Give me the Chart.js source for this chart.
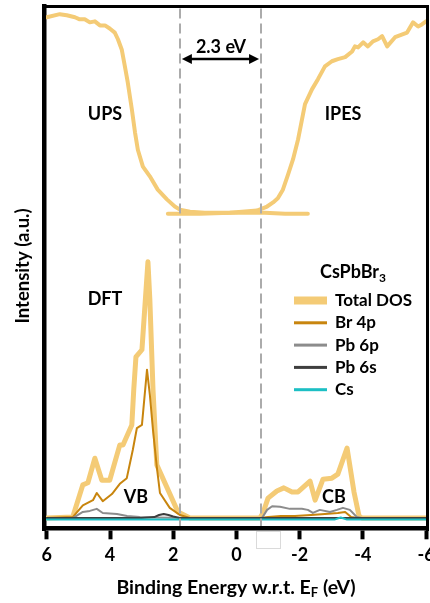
<!DOCTYPE html>
<html>
<head>
<meta charset="utf-8">
<script src="https://cdn.jsdelivr.net/npm/chart.js@4.4.1/dist/chart.umd.min.js"></script>
<style>
  html, body { margin: 0; padding: 0; background: #ffffff; }
  #wrap { width: 430px; height: 603px; position: relative; }
</style>
</head>
<body>
<div id="wrap"><canvas id="c" width="430" height="603"></canvas></div>
<script>
// Energy axis (binding energy, eV; drawn high-to-low)
const xTicks = [6, 4, 2, 0, -2, -4, -6];

// Band edges marked by the dashed guides and the 2.3 eV gap arrow
const gapEdges = [1.79, -0.78];

// UPS spectrum
const upsE = [6.0, 5.59, 5.37, 5.11, 4.96, 4.80, 4.64, 4.48, 4.32, 4.16, 4.01, 3.85, 3.75, 3.63, 3.53, 3.44, 3.31, 3.21, 3.12, 2.96, 2.74, 2.49, 2.20, 1.95, 1.79, 1.47, 1.00, 0.36, -0.27, -0.90, -1.54, -2.26];
const upsI = [97.9, 98.5, 98.3, 97.9, 97.5, 97.5, 96.9, 97.1, 96.3, 96.3, 95.7, 94.9, 93.6, 91.6, 88.3, 85.2, 79.9, 75.4, 72.0, 68.7, 66.8, 64.2, 62.3, 60.9, 60.3, 59.9, 59.7, 59.7, 59.7, 59.7, 59.5, 59.5];

// IPES spectrum
const ipesE = [2.17, 1.16, 0.21, -0.65, -0.97, -1.16, -1.31, -1.47, -1.63, -1.79, -1.95, -2.17, -2.39, -2.58, -2.80, -3.02, -3.21, -3.44, -3.66, -3.75, -3.85, -4.01, -4.16, -4.32, -4.48, -4.61, -4.77, -5.02, -5.40, -5.59, -5.75, -5.87, -6.0];
const ipesI = [59.5, 59.5, 59.7, 60.1, 60.9, 61.7, 62.5, 64.2, 67.1, 70.1, 74.0, 80.9, 83.8, 85.8, 88.3, 89.3, 89.7, 90.1, 91.2, 92.2, 92.0, 93.0, 92.2, 93.2, 93.6, 94.2, 92.2, 94.0, 94.9, 96.9, 96.1, 96.5, 97.1];

// DFT density of states: total
const totalE = [6.0, 5.18, 4.86, 4.70, 4.48, 4.26, 4.01, 3.69, 3.59, 3.31, 3.25, 3.18, 2.99, 2.80, 2.74, 2.64, 2.52, 1.85, 1.47, -0.74, -0.84, -1.00, -1.28, -1.50, -1.76, -1.95, -2.33, -2.49, -2.74, -3.02, -3.21, -3.50, -3.72, -3.88, -3.97, -6.0];
const totalV = [0, 0.2, 6.5, 6.9, 11.7, 7.4, 7.4, 14.3, 14.3, 18.2, 25.0, 31.5, 32.9, 50.1, 42.7, 25.1, 10.4, 1.2, 0, 0, 1.0, 3.9, 5.3, 5.9, 5.1, 5.1, 7.2, 3.5, 7.6, 7.8, 8.6, 13.7, 5.1, 0.4, 0, 0];

// Br 4p projected DOS
const br4pE = [6.0, 5.18, 4.86, 4.54, 4.42, 4.23, 3.94, 3.69, 3.47, 3.28, 3.15, 2.99, 2.83, 2.74, 2.64, 2.52, 2.42, 2.11, 1.79, 1.47, -0.74, -1.00, -1.41, -1.85, -2.36, -2.80, -3.21, -3.44, -3.63, -3.85, -6.0];
const br4pV = [0, 0.2, 2.5, 3.5, 4.9, 3.3, 4.7, 6.7, 7.8, 13.3, 17.6, 18.2, 29.0, 24.1, 17.2, 10.0, 4.9, 2.0, 0.6, 0, 0, 0.2, 0.4, 0.4, 0.6, 0.8, 1.0, 1.2, 0.2, 0, 0];

// Pb 6p projected DOS
const pb6pE = [6.0, 5.18, 4.86, 4.64, 4.42, 4.23, 3.78, 3.46, 3.06, 2.60, 1.47, -0.81, -0.97, -1.13, -1.38, -1.69, -2.07, -2.26, -2.42, -2.64, -2.96, -3.18, -3.37, -3.59, -3.81, -3.97, -6.0];
const pb6pV = [0, 0, 1.2, 1.4, 1.8, 1.0, 0.8, 0.4, 0.2, 0.1, 0, 0, 1.6, 2.3, 2.2, 1.8, 1.8, 1.6, 1.0, 1.6, 1.2, 1.6, 2.0, 1.6, 0.2, 0, 0];

// Pb 6s projected DOS
const pb6sE = [6.0, 3.0, 2.6, 2.45, 2.3, 2.15, 2.0, 1.8, -6.0];
const pb6sV = [0, 0, 0.2, 0.6, 0.8, 0.6, 0.3, 0, 0];

// Cs projected DOS
const csE = [6.0, -3.1, -3.3, -3.5, -6.0];
const csV = [-0.3, -0.3, 0.1, -0.3, -0.3];

const legendNames = ['Total DOS', 'Br 4p', 'Pb 6p', 'Pb 6s', 'Cs'];

const COL = {
  total: '#F4CB76',
  br: '#C8850E',
  pb6p: '#8C8C8C',
  pb6s: '#3E3E3E',
  cs: '#1CBFC4'
};

const pts = (xs, ys) => xs.map((x, i) => ({ x: x, y: ys[i] }));

function lineSet(label, xs, ys, color, width, order) {
  return {
    label: label,
    data: pts(xs, ys),
    borderColor: color,
    backgroundColor: color,
    borderWidth: width,
    pointRadius: 0,
    tension: 0,
    fill: false,
    order: order,
    borderJoinStyle: 'round',
    borderCapStyle: 'round'
  };
}

const FONT = 'Lato, "Open Sans", "DejaVu Sans", sans-serif';

// Frame-only axis (no ticks, no grid), used for the box edges
function frameAxis(axis, position, width, fitSize) {
  return {
    type: 'linear',
    axis: axis,
    position: position,
    display: true,
    min: 0,
    max: 1,
    grid: { display: false, drawTicks: false },
    ticks: { display: false },
    border: { display: true, color: '#000', width: width },
    afterFit(scale) {
      if (axis === 'x') scale.height = fitSize; else scale.width = fitSize;
      scale.paddingLeft = 0; scale.paddingRight = 0; scale.paddingTop = 0; scale.paddingBottom = 0;
    }
  };
}

// Dashed guides, gap arrow, box edges, labels and the legend block
const overlay = {
  id: 'overlay',
  afterDraw(chart) {
    const ctx = chart.ctx;
    const a = chart.chartArea;
    const xs = chart.scales.x;

    // dashed band-edge guides
    ctx.save();
    ctx.strokeStyle = '#ABABAB';
    ctx.lineWidth = 2;
    ctx.setLineDash([10, 5]);
    gapEdges.forEach(e => {
      const px = Math.round(xs.getPixelForValue(e));
      ctx.beginPath();
      ctx.moveTo(px, a.top + 2);
      ctx.lineTo(px, a.bottom + 1);
      ctx.stroke();
    });
    ctx.setLineDash([]);
    ctx.restore();

    // double-headed gap arrow
    const xl = xs.getPixelForValue(gapEdges[0]) + 2;
    const xr = xs.getPixelForValue(gapEdges[1]) - 2;
    const ay = 59;
    ctx.save();
    ctx.fillStyle = '#000';
    ctx.fillRect(xl + 8, ay - 1.25, (xr - 8) - (xl + 8), 2.5);
    ctx.beginPath();
    ctx.moveTo(xl, ay); ctx.lineTo(xl + 10, ay - 5); ctx.lineTo(xl + 10, ay + 5); ctx.closePath();
    ctx.fill();
    ctx.beginPath();
    ctx.moveTo(xr, ay); ctx.lineTo(xr - 10, ay - 5); ctx.lineTo(xr - 10, ay + 5); ctx.closePath();
    ctx.fill();

    // box edges over the curve ends
    ctx.fillRect(42, 5, 387, 3);
    ctx.fillRect(426, 5, 3, 526);
    ctx.fillRect(42, 5, 4, 526);
    ctx.fillRect(42, 526, 387, 4);
    ctx.restore();

    // text labels
    ctx.save();
    ctx.fillStyle = '#000';
    ctx.textAlign = 'center';
    ctx.textBaseline = 'middle';
    ctx.font = 'bold 18px ' + FONT;
    ctx.fillText('UPS', 105, 114);
    ctx.fillText('IPES', 343, 114);
    ctx.fillText('DFT', 105, 299);
    ctx.fillText('VB', 136, 497);
    ctx.fillText('CB', 334, 497);
    ctx.fillText('2.3 eV', 221, 47);

    // y-axis title
    ctx.save();
    ctx.translate(23, 266);
    ctx.rotate(-Math.PI / 2);
    ctx.font = 'bold 18.5px ' + FONT;
    ctx.fillText('Intensity (a.u.)', 0, 0);
    ctx.restore();

    // x-axis title with subscript
    const t1 = 'Binding Energy w.r.t. E';
    const t2 = 'F';
    const t3 = ' (eV)';
    ctx.font = 'bold 19.5px ' + FONT;
    const w1 = ctx.measureText(t1).width;
    const w3 = ctx.measureText(t3).width;
    ctx.font = 'bold 13px ' + FONT;
    const w2 = ctx.measureText(t2).width;
    const total = w1 + w2 + w3;
    const x0 = 236 - total / 2;
    ctx.textAlign = 'left';
    ctx.font = 'bold 19.5px ' + FONT;
    ctx.fillText(t1, x0, 588);
    ctx.font = 'bold 13px ' + FONT;
    ctx.fillText(t2, x0 + w1, 593);
    ctx.font = 'bold 19.5px ' + FONT;
    ctx.fillText(t3, x0 + w1 + w2, 588);

    // legend title
    ctx.font = 'bold 18px ' + FONT;
    const lw = ctx.measureText('CsPbBr').width;
    ctx.fillText('CsPbBr', 320, 272);
    ctx.font = 'bold 12px ' + FONT;
    ctx.fillText('3', 320 + lw, 278);

    // legend entries
    const sets = chart.data.datasets;
    ctx.font = 'bold 17px ' + FONT;
    legendNames.forEach((name, i) => {
      const ds = sets.find(d => d.label === name);
      const cy = 300.5 + i * 22.3;
      ctx.fillStyle = ds.borderColor;
      if (i === 0) ctx.fillRect(294, cy - 4, 33, 8);
      else ctx.fillRect(294, cy - 1.5, 33, 3);
      ctx.fillStyle = '#000';
      ctx.fillText(name, 335, cy);
    });

    // faint outline box under the axis
    ctx.strokeStyle = '#DADADA';
    ctx.lineWidth = 1;
    ctx.strokeRect(256.5, 531.5, 24, 17);
    ctx.restore();
  }
};

new Chart(document.getElementById('c'), {
  type: 'line',
  data: {
    datasets: [
      lineSet('Cs', csE, csV, COL.cs, 2, 1),
      lineSet('Pb 6s', pb6sE, pb6sV, COL.pb6s, 2, 2),
      lineSet('Pb 6p', pb6pE, pb6pV, COL.pb6p, 2, 3),
      lineSet('Br 4p', br4pE, br4pV, COL.br, 2, 4),
      lineSet('IPES', ipesE, ipesI, COL.total, 4, 8),
      lineSet('UPS', upsE, upsI, COL.total, 4, 9),
      lineSet('Total DOS', totalE, totalV, COL.total, 5, 10)
    ]
  },
  options: {
    responsive: false,
    animation: false,
    devicePixelRatio: 1,
    layout: { padding: 0 },
    plugins: {
      legend: { display: false },
      tooltip: { enabled: false }
    },
    scales: {
      x: {
        type: 'linear',
        position: 'bottom',
        reverse: true,
        min: -6.04,
        max: 6.08,
        afterBuildTicks(scale) { scale.ticks = xTicks.map(v => ({ value: v })); },
        afterFit(scale) { scale.height = 74.7; scale.paddingLeft = 0; scale.paddingRight = 0; },
        border: { display: true, color: '#000', width: 4.5 },
        grid: {
          display: true,
          drawOnChartArea: false,
          drawTicks: true,
          tickLength: 11,
          tickWidth: 4,
          tickColor: '#000'
        },
        ticks: {
          autoSkip: false,
          maxRotation: 0,
          padding: 5,
          color: '#000',
          font: { family: FONT, size: 18, weight: 'bold' },
          callback: v => String(v)
        }
      },
      y: {
        type: 'linear',
        position: 'left',
        min: -2,
        max: 100,
        grid: { display: false, drawTicks: false },
        ticks: { display: false },
        border: { display: true, color: '#000', width: 4.5 },
        afterFit(scale) { scale.width = 44.3; }
      },
      xTop: frameAxis('x', 'top', 3, 6.5),
      yRight: frameAxis('y', 'right', 3, 2.7)
    }
  },
  plugins: [overlay]
});
</script>
</body>
</html>
